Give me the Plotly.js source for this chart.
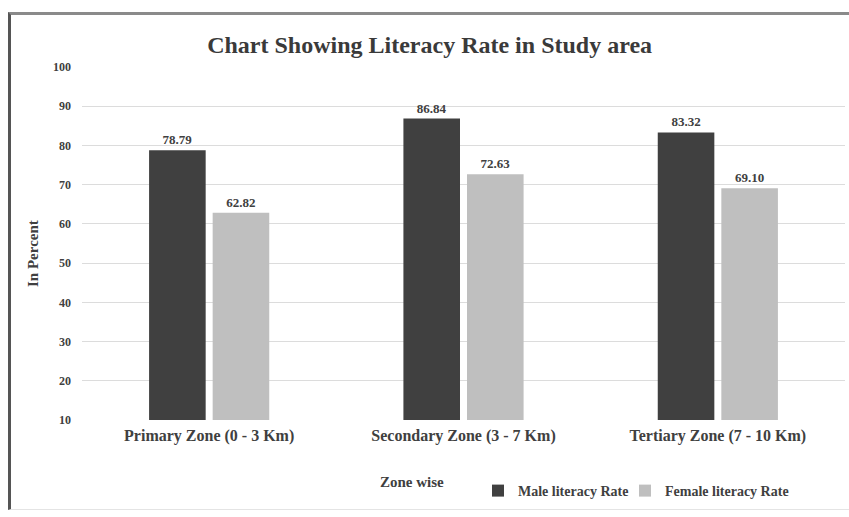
<!DOCTYPE html>
<html>
<head>
<meta charset="utf-8">
<script src="https://cdn.plot.ly/plotly-3.0.1.min.js"></script>
<style>
  html, body { margin: 0; padding: 0; background: #fff; }
  #wrap { position: relative; width: 849px; height: 517px; overflow: hidden; }
  #chart { width: 849px; height: 517px; }
  #frame { position: absolute; left: 8px; top: 12px; width: 845px; height: 498px;
           border-left: 3px solid #555; border-top: 3px solid #8a8a8a; border-bottom: 1px solid #e4e4e4;
           pointer-events: none; box-sizing: border-box; }
</style>
</head>
<body>
<div id="wrap">
  <div id="chart"></div>
  <div id="frame"></div>
</div>
<script>
const categories = ["Primary Zone (0 - 3 Km)", "Secondary Zone (3 - 7 Km)", "Tertiary Zone (7 - 10 Km)"];
const maleRate = [78.79, 86.84, 83.32];
const femaleRate = [62.82, 72.63, 69.10];
const seriesNames = ["Male literacy Rate", "Female literacy Rate"];

const serif = "Liberation Serif, Times New Roman, serif";
const labelFont = { family: serif, size: 13, color: "#404040", weight: "bold" };
const legendFont = { family: serif, size: 14, color: "#404040", weight: "bold" };

const traces = [
  { type: "bar", name: seriesNames[0], x: categories, y: maleRate, legend: "legend",
    marker: { color: "#404040" }, texttemplate: "<b>%{y:.2f}</b>", textposition: "outside",
    textfont: labelFont, cliponaxis: false, hoverinfo: "skip" },
  { type: "bar", name: seriesNames[1], x: categories, y: femaleRate, legend: "legend2",
    marker: { color: "#bfbfbf" }, texttemplate: "<b>%{y:.2f}</b>", textposition: "outside",
    textfont: labelFont, cliponaxis: false, hoverinfo: "skip" }
];

const legendY = -(491 - 420) / 353;

const layout = {
  width: 849, height: 517,
  margin: { l: 82, r: 4, t: 67, b: 97 },
  paper_bgcolor: "#fff", plot_bgcolor: "#fff",
  barmode: "group", bargap: 0.5, bargroupgap: 0.11,
  title: { text: "<b>Chart Showing Literacy Rate in Study area</b>",
           font: { family: serif, size: 24, color: "#3a3a3a" },
           x: 0.506, xanchor: "center", y: 0.913, yanchor: "middle", yref: "container" },
  xaxis: { type: "category", showgrid: false, showline: false, ticks: "", ticklabelstandoff: 4,
           tickfont: { family: serif, size: 16, color: "#404040", weight: "bold" } },
  yaxis: { range: [10, 100], dtick: 10, tick0: 10, showgrid: true, gridcolor: "#dcdcdc", gridwidth: 1,
           zeroline: false, showline: false, ticks: "", ticklabelstandoff: 10,
           tickfont: { family: serif, size: 12, color: "#404040", weight: "bold" } },
  showlegend: true,
  legend: { orientation: "h", x: (478 - 82) / 763, xanchor: "left", y: legendY, yanchor: "middle",
            font: legendFont, itemwidth: 30, bgcolor: "rgba(0,0,0,0)" },
  legend2: { orientation: "h", x: (625 - 82) / 763, xanchor: "left", y: legendY, yanchor: "middle",
            font: legendFont, itemwidth: 30, bgcolor: "rgba(0,0,0,0)" },
  annotations: [
    { text: "<b>Zone wise</b>", xref: "paper", yref: "paper", x: (412 - 82) / 763, y: -(482 - 420) / 353,
      xanchor: "center", yanchor: "middle", showarrow: false,
      font: { family: serif, size: 15, color: "#404040" } },
    { text: "<b>In Percent</b>", xref: "paper", yref: "paper", x: (33 - 82) / 763, y: (420 - 254) / 353,
      xanchor: "center", yanchor: "middle", showarrow: false, textangle: -90,
      font: { family: serif, size: 15, color: "#404040" } }
  ]
};

Plotly.newPlot("chart", traces, layout, { displayModeBar: false, staticPlot: true });
</script>
</body>
</html>
